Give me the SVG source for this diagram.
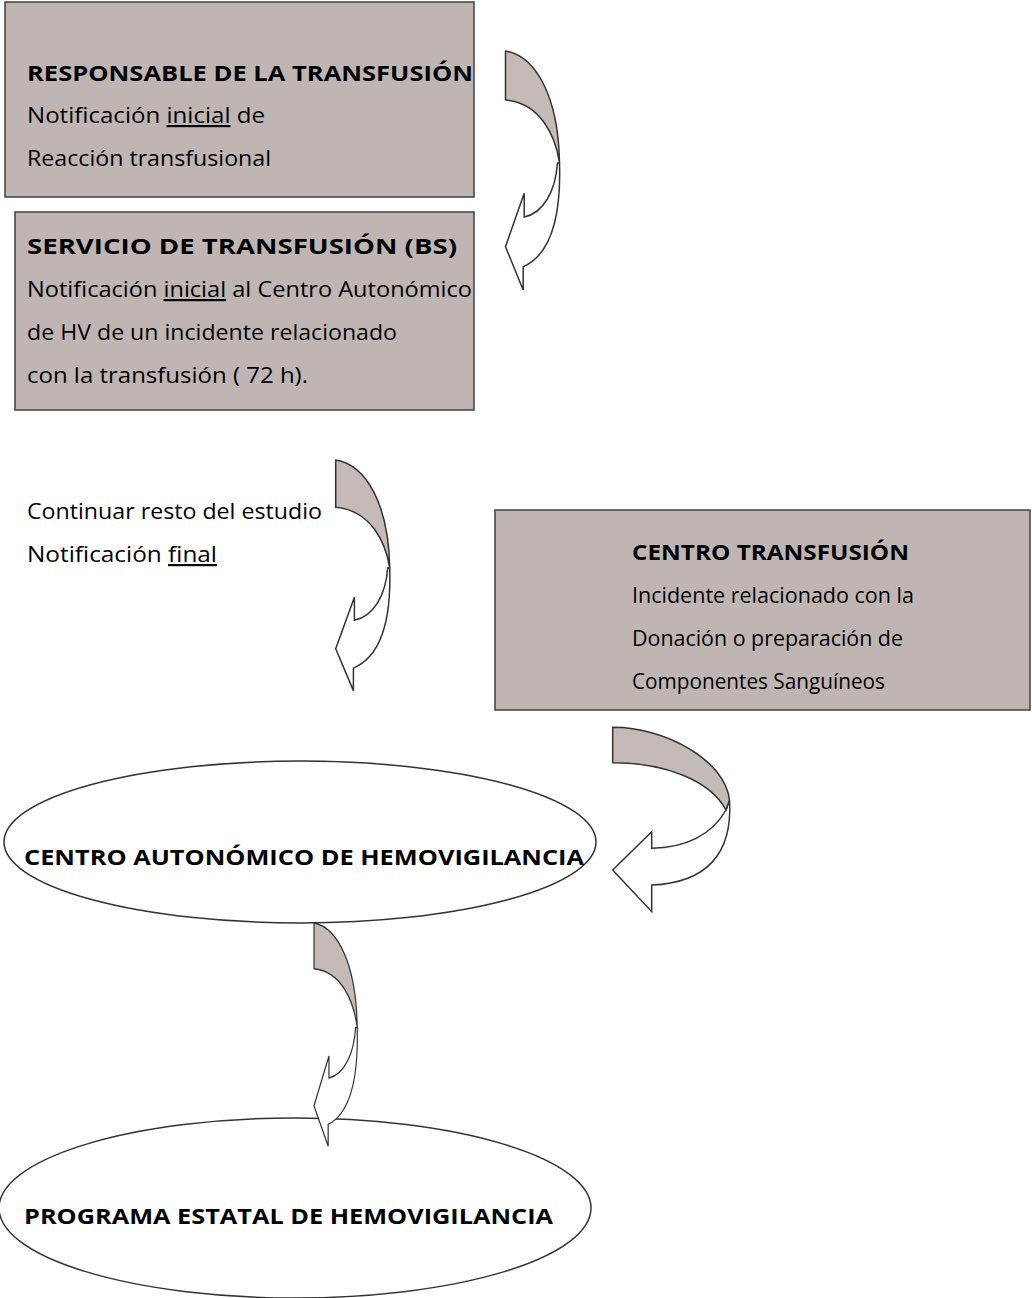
<svg xmlns="http://www.w3.org/2000/svg" width="1032" height="1298" viewBox="0 0 1032 1298">
  <style>
    .box { fill: #bfb6b3; stroke: #404040; stroke-width: 1.5; }
    .ell { fill: #ffffff; stroke: #333333; stroke-width: 1.5; }
    .t { font-family: "Open Sans", "DejaVu Sans", sans-serif; font-size: 22px; fill: #000; }
    .b { font-weight: bold; }
    .u { text-decoration: underline; }
    .sh { fill: #c4bbb8; stroke: #333333; stroke-width: 1.5; stroke-linejoin: round; }
    .wh { fill: #ffffff; stroke: #333333; stroke-width: 1.5; stroke-linejoin: miter; }
  </style>
  <defs>
    <g id="curvedDown">
      <path class="wh" d="M52,112 C50,140 38,162 18.7,166 L18.7,142.3 L0,195.7 L17.7,239 L17.7,215.7 C42,205 56,175 54,112 Z"/>
      <path class="sh" d="M0,0 C30,5 53,45 54,112 C50,85 35,52 0,49 Z"/>
    </g>
  </defs>

  <g id="node-responsable">
    <rect class="box" x="5" y="2" width="469" height="195"/>
    <text class="t b" x="27" y="81" textLength="446" lengthAdjust="spacingAndGlyphs">RESPONSABLE DE LA TRANSFUSIÓN</text>
    <text class="t" x="27" y="123" textLength="238" lengthAdjust="spacingAndGlyphs">Notificación <tspan class="u">inicial</tspan> de</text>
    <text class="t" x="27" y="166" textLength="244" lengthAdjust="spacingAndGlyphs">Reacción transfusional</text>
  </g>

  <g id="node-servicio">
    <rect class="box" x="15" y="212" width="459" height="198"/>
    <text class="t b" x="27" y="254" textLength="430" lengthAdjust="spacingAndGlyphs">SERVICIO DE TRANSFUSIÓN (BS)</text>
    <text class="t" x="27" y="297" textLength="445" lengthAdjust="spacingAndGlyphs">Notificación <tspan class="u">inicial</tspan> al Centro Autonómico</text>
    <text class="t" x="27" y="340" textLength="370" lengthAdjust="spacingAndGlyphs">de HV de un incidente relacionado</text>
    <text class="t" x="27" y="383" textLength="281" lengthAdjust="spacingAndGlyphs">con la transfusión ( 72 h).</text>
  </g>

  <g id="node-continuar">
    <text class="t" x="27" y="519" textLength="295" lengthAdjust="spacingAndGlyphs">Continuar resto del estudio</text>
    <text class="t" x="27" y="562" textLength="190" lengthAdjust="spacingAndGlyphs">Notificación <tspan class="u">final</tspan></text>
  </g>

  <g id="node-centro-transfusion">
    <rect class="box" x="495" y="510" width="535" height="200"/>
    <text class="t b" x="632" y="560" textLength="277" lengthAdjust="spacingAndGlyphs">CENTRO TRANSFUSIÓN</text>
    <text class="t" x="632" y="603" textLength="282" lengthAdjust="spacingAndGlyphs">Incidente relacionado con la</text>
    <text class="t" x="632" y="646" textLength="271" lengthAdjust="spacingAndGlyphs">Donación o preparación de</text>
    <text class="t" x="632" y="689" textLength="253" lengthAdjust="spacingAndGlyphs">Componentes Sanguíneos</text>
  </g>

  <g id="node-centro-autonomico">
    <ellipse class="ell" cx="300" cy="842" rx="296" ry="81"/>
    <text class="t b" x="24" y="865" textLength="560" lengthAdjust="spacingAndGlyphs">CENTRO AUTONÓMICO DE HEMOVIGILANCIA</text>
  </g>

  <g id="node-programa">
    <ellipse class="ell" cx="295" cy="1208" rx="296" ry="90"/>
    <text class="t b" x="24" y="1224" textLength="529" lengthAdjust="spacingAndGlyphs">PROGRAMA ESTATAL DE HEMOVIGILANCIA</text>
  </g>

  <g id="connectors">
    <use href="#curvedDown" transform="translate(505.5,51)"/>
    <use href="#curvedDown" transform="translate(335.7,460) scale(1,0.965)"/>
    <g id="arrow-ct">
      <path class="wh" d="M726,810 C712,835 685,848 651.7,848.3 L651.7,831.7 L612.7,870 L651.7,911.7 L651.7,885 C705,883 733,855 729.5,800 Z"/>
      <path class="sh" d="M612.7,727.3 C665,727 725,760 729.5,800 L726,810 C710,780 665,763 612.7,762.7 Z"/>
    </g>
    <use href="#curvedDown" transform="translate(314,923) scale(0.8,0.934)"/>
  </g>
</svg>
